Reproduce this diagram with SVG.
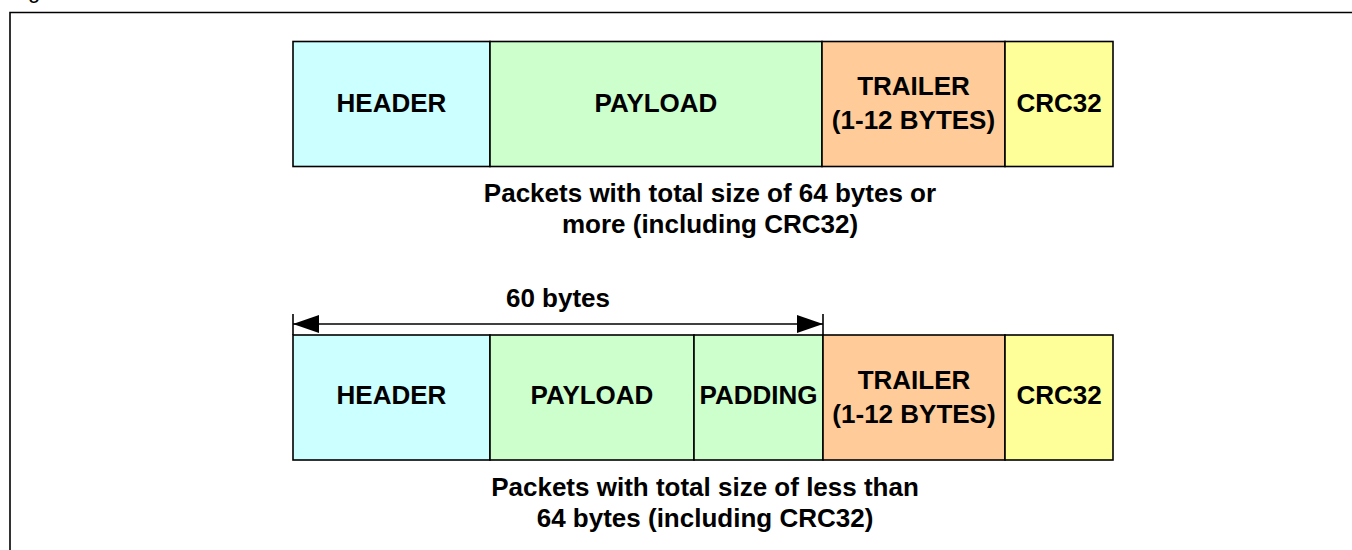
<svg xmlns="http://www.w3.org/2000/svg" width="1352" height="550" viewBox="0 0 1352 550">
<defs>
<style>
.box{stroke:#000;stroke-width:1.6}
.hdr{fill:#CCFFFF}.pay{fill:#CCFFCC}.trl{fill:#FFCC99}.crc{fill:#FFFF99}
.lbl{font-family:"Liberation Sans",Arial,sans-serif;font-weight:bold;font-size:26px;fill:#000;text-anchor:middle}
.cap{font-family:"Liberation Sans",Arial,sans-serif;font-weight:bold;font-size:26px;fill:#000;text-anchor:middle}
.ln{stroke:#000;stroke-width:1.6;fill:none}
</style>
<marker id="ah" viewBox="0 0 26 18" refX="26" refY="9" markerWidth="26" markerHeight="18" markerUnits="userSpaceOnUse" orient="auto-start-reverse">
<path d="M0,0 L26,9 L0,18 Z" fill="#000"/>
</marker>
</defs>
<rect x="0" y="0" width="1352" height="550" fill="#fff"/>
<text x="28" y="-2" font-family="Liberation Sans,Arial,sans-serif" font-size="22" fill="#000">g</text>
<path class="ln" d="M10,552 V12.5 H1354" stroke-width="1.8"/>

<g id="row1">
<g id="r1-header"><rect class="box hdr" x="293" y="41.5" width="197" height="125"/><text class="lbl" x="391.5" y="112">HEADER</text></g>
<g id="r1-payload"><rect class="box pay" x="490" y="41.5" width="332" height="125"/><text class="lbl" x="656" y="112">PAYLOAD</text></g>
<g id="r1-trailer"><rect class="box trl" x="822" y="41.5" width="183" height="125"/><text class="lbl" x="913.5" y="95">TRAILER</text><text class="lbl" x="913.5" y="129">(1-12 BYTES)</text></g>
<g id="r1-crc"><rect class="box crc" x="1005" y="41.5" width="108" height="125"/><text class="lbl" x="1059" y="112">CRC32</text></g>
</g>
<g id="cap1"><text class="cap" x="710" y="202">Packets with total size of 64 bytes or</text><text class="cap" x="710" y="233">more (including CRC32)</text></g>

<g id="row2">
<g id="r2-header"><rect class="box hdr" x="293" y="335" width="197" height="125"/><text class="lbl" x="391.5" y="404">HEADER</text></g>
<g id="r2-payload"><rect class="box pay" x="490" y="335" width="204" height="125"/><text class="lbl" x="592" y="404">PAYLOAD</text></g>
<g id="r2-padding"><rect class="box pay" x="694" y="335" width="129" height="125"/><text class="lbl" x="758.5" y="404">PADDING</text></g>
<g id="r2-trailer"><rect class="box trl" x="823" y="335" width="182" height="125"/><text class="lbl" x="914" y="389">TRAILER</text><text class="lbl" x="914" y="423">(1-12 BYTES)</text></g>
<g id="r2-crc"><rect class="box crc" x="1005" y="335" width="108" height="125"/><text class="lbl" x="1059" y="404">CRC32</text></g>
</g>
<g id="cap2"><text class="cap" x="705" y="496">Packets with total size of less than</text><text class="cap" x="705" y="527">64 bytes (including CRC32)</text></g>

<g id="connectors">
<path class="ln" d="M293,314 V335"/>
<path class="ln" d="M823,314 V335"/>
<path class="ln" d="M293,324 H823" marker-start="url(#ah)" marker-end="url(#ah)"/>
<text class="lbl" x="558" y="307">60 bytes</text>
</g>
</svg>
